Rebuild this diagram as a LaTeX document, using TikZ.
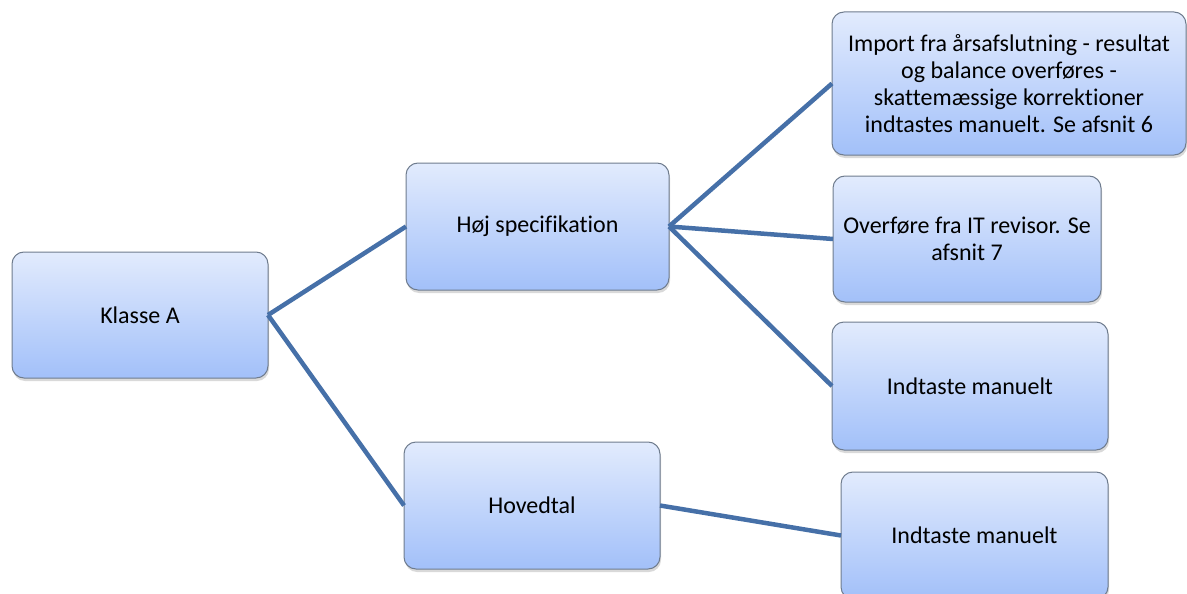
\documentclass[tikz,border=0pt]{standalone}
\usepackage{fontspec}
\setmainfont[Ligatures=CommonOff]{Carlito}
\usepackage{tikz}
\usetikzlibrary{positioning, shadows}
\definecolor{boxtop}{HTML}{E2EBFD}
\definecolor{boxbot}{HTML}{A2C0F9}
\definecolor{boxrim}{HTML}{6F7C8E}
\definecolor{linkblue}{HTML}{4670A8}

\begin{document}
\begin{tikzpicture}[x=1pt, y=-1pt,
	every node/.style={font=\fontsize{24}{27}\selectfont, align=center, outer sep=0},
	box/.style={draw=boxrim, line width=1pt, rounded corners=12pt, top color=boxtop, bottom color=boxbot,
		drop shadow={opacity=0.3, shadow xshift=1pt, shadow yshift=-3pt}},
	link/.style={draw=linkblue, line width=4.5pt}]
\useasboundingbox (0,0) rectangle (1187,594);
\node[box, minimum width=256pt, minimum height=126pt] (klasse) at (140,315) {Klasse A};
\node[box, minimum width=263pt, minimum height=127pt] (hoej) at (537.5,226.5) {Høj specifikation};
\node[box, minimum width=256pt, minimum height=127pt] (hoved) at (532,505.5) {Hovedtal};
\node[box, minimum width=354pt, minimum height=143pt] (import) at (1009,83.5) {Import fra årsafslutning - resultat\\og balance overføres -\\skattemæssige korrektioner\\indtastes manuelt. Se afsnit 6};
\node[box, minimum width=268pt, minimum height=126pt] (overfoer) at (967,239) {Overføre fra IT revisor. Se\\afsnit 7};
\node[box, minimum width=276pt, minimum height=128pt] (manuelA) at (970,386) {Indtaste manuelt};
\node[box, minimum width=267pt, minimum height=127pt] (manuelB) at (974.5,535.5) {Indtaste manuelt};
\foreach \a/\b in {klasse/hoej, klasse/hoved, hoej/import, hoej/overfoer, hoej/manuelA, hoved/manuelB} {
	\draw[link] (\a.east) -- (\b.west);
}
\end{tikzpicture}
\end{document}
